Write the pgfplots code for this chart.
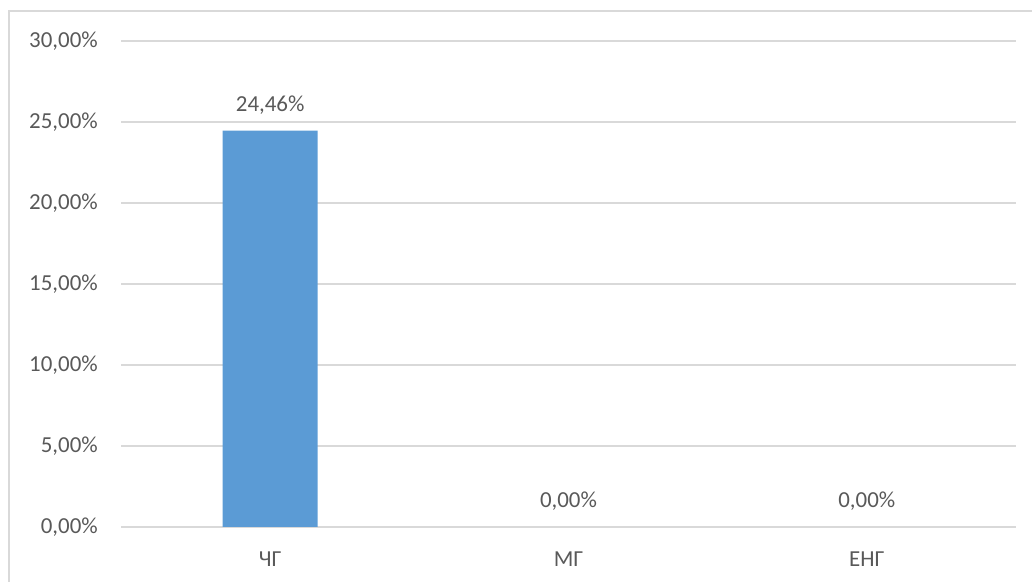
\documentclass[border=0pt]{standalone}
\usepackage{fontspec}
\setmainfont{Carlito}
\usepackage{pgfplots}
\pgfplotsset{compat=1.18}
\definecolor{barblue}{HTML}{5B9BD5}
\definecolor{gridgray}{HTML}{D9D9D9}
\definecolor{txtgray}{HTML}{595959}

\begin{document}
\begin{tikzpicture}
\useasboundingbox (0,0) rectangle (1032bp,582bp);
% chart area frame (only top and left edges are visible)
\draw[gridgray, line width=1.5bp] (9bp,0) -- (9bp,571bp) -- (1032bp,571bp);
\begin{axis}[
    at={(121bp,55bp)},
    anchor=south west,
    scale only axis,
    width=895bp,
    height=486bp,
    xmin=-0.5, xmax=2.5,
    ymin=0, ymax=30,
    xtick={0,1,2},
    xticklabels={ЧГ, МГ, ЕНГ},
    ytick={0,5,10,15,20,25,30},
    major tick length=0pt,
    axis line style={draw=none},
    ymajorgrids,
    grid style={gridgray, line width=1.3bp},
    font=\fontsize{23}{27}\selectfont,
    ticklabel style={text=txtgray},
    /pgf/number format/assume math mode=true,
    yticklabel={\pgfmathprintnumber[fixed,fixed zerofill,precision=2,use comma]{\tick}\%},
    yticklabel style={anchor=east, inner sep=0pt, xshift=-23bp},
    xticklabel style={anchor=north, inner sep=0pt, yshift=-25bp},
    ybar,
    bar width=95bp,
    nodes near coords={\pgfmathprintnumber[fixed,fixed zerofill,precision=2,use comma]{\pgfplotspointmeta}\%},
    nodes near coords style={text=txtgray, anchor=south, inner sep=0pt, yshift=16bp},
]
\addplot[fill=barblue, draw=none] coordinates {(0,24.46) (1,0) (2,0)};
\end{axis}
\end{tikzpicture}
\end{document}
